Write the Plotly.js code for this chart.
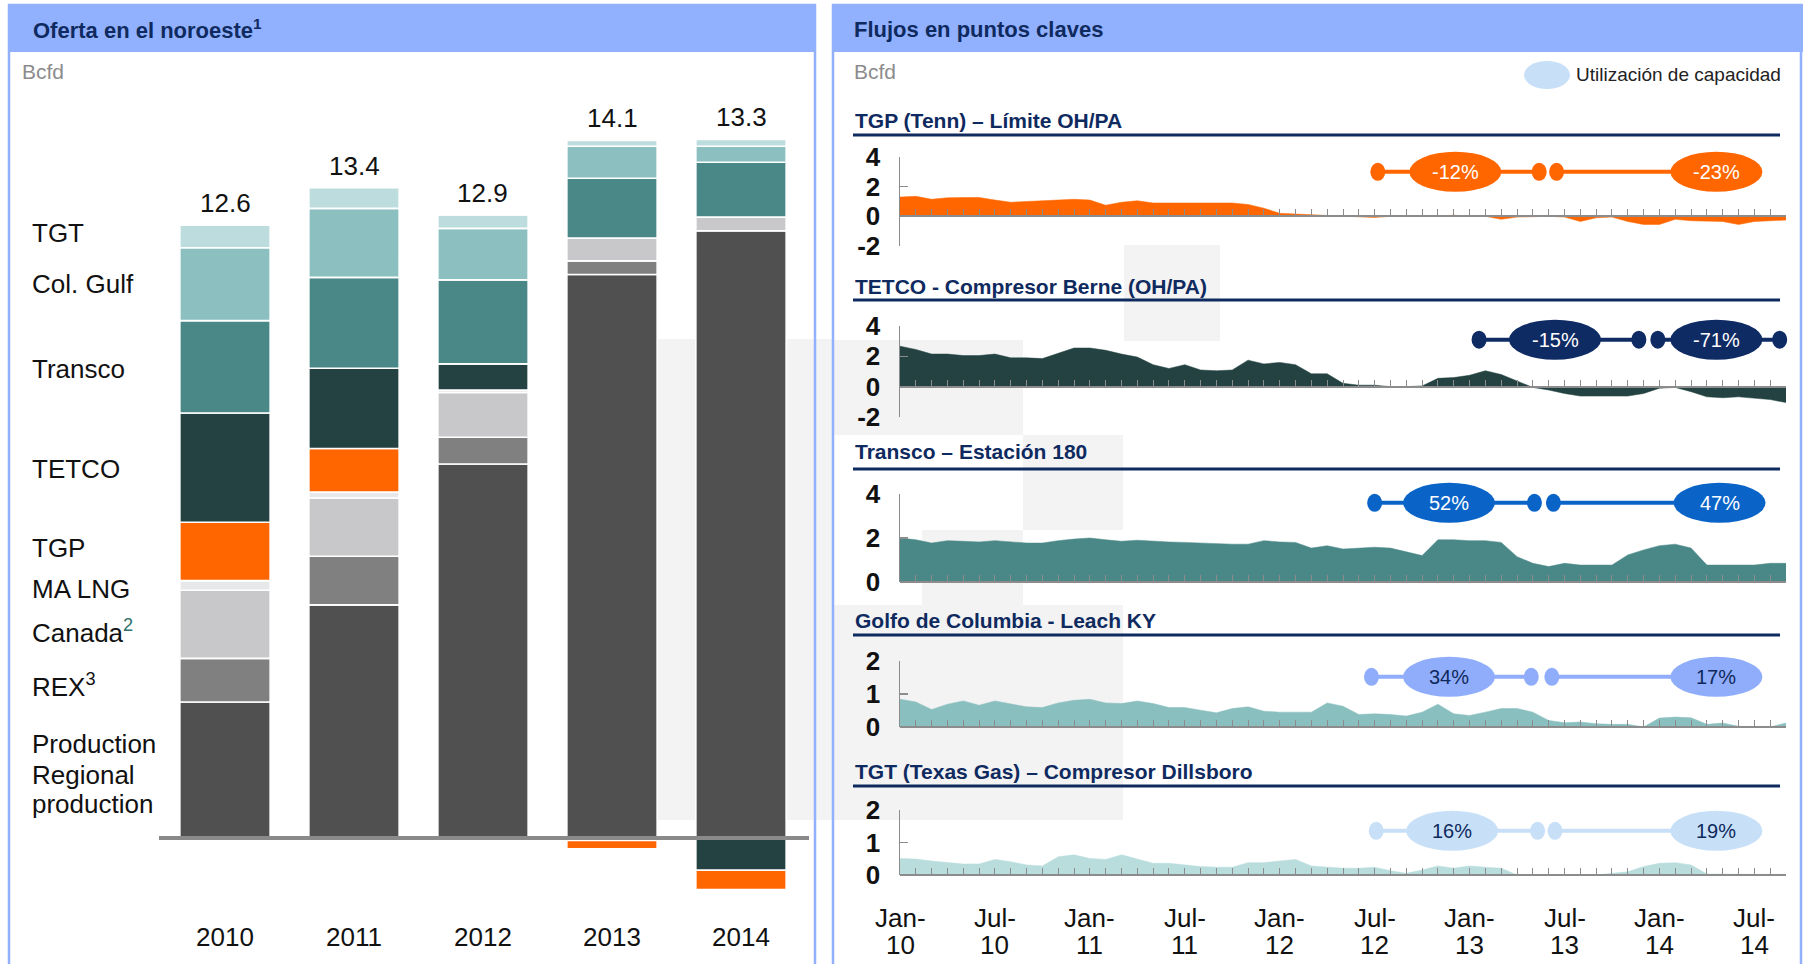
<!DOCTYPE html>
<html>
<head>
<meta charset="utf-8">
<script src="https://cdn.plot.ly/plotly-3.0.1.min.js"></script>
<style>
html,body{margin:0;padding:0;background:#fff;}
#chart{width:1803px;height:964px;}
</style>
</head>
<body>
<div id="chart"></div>
<script>
// ---------------- DATA ----------------
// Left panel: Oferta en el noroeste (Bcfd)
const years = ['2010','2011','2012','2013','2014'];
const regional = [2.8, 4.8, 7.7, 11.6, 12.5];
const rex      = [0.9, 1.0, 0.55, 0.28, 0];
const canada   = [1.4, 1.2, 0.92, 0.47, 0.28];
const maLng    = [0.2, 0.12, 0.05, 0, 0];
const tgp      = [1.2, 0.9, 0, -0.17, -0.40];
const tetco    = [2.25, 1.65, 0.54, -0.05, -0.66];
const transco  = [1.9, 1.87, 1.73, 1.23, 1.13];
const colGulf  = [1.5, 1.42, 1.06, 0.66, 0.33];
const tgt      = [0.47, 0.43, 0.28, 0.12, 0.14];
const totals   = ['12.6','13.4','12.9','14.1','13.3'];

// Right panel: Flujos en puntos claves (Bcfd), monthly Jan-10 .. Sep-14
const months = [0,1,2,3,4,5,6,7,8,9,10,11,12,13,14,15,16,17,18,19,20,21,22,23,24,25,26,27,28,29,30,31,32,33,34,35,36,37,38,39,40,41,42,43,44,45,46,47,48,49,50,51,52,53,54,55,56];
const labelMonths = [0,6,12,18,24,30,36,42,48,54];
const labelTop = ['Jan-','Jul-','Jan-','Jul-','Jan-','Jul-','Jan-','Jul-','Jan-','Jul-'];
const labelBottom = ['10','10','11','11','12','12','13','13','14','14'];

const tgpFlow = [1.3,1.35,1.15,1.25,1.27,1.27,1.1,0.95,1.0,1.05,
  1.1,1.15,1.1,0.75,0.95,1.05,0.9,0.9,0.95,0.95,
  0.9,0.9,0.8,0.55,0.2,0.15,0.1,0.02,0,-0.05,
  -0.08,0,0,0,0,0.08,0,0,-0.2,-0.05,
  0,0,-0.05,-0.35,-0.1,-0.05,-0.35,-0.55,-0.55,-0.2,
  -0.3,-0.3,-0.35,-0.55,-0.35,-0.3,-0.25];
const tetcoFlow = [2.67,2.45,2.15,2.15,2.05,2.05,2.15,1.9,1.9,1.85,
  2.2,2.55,2.55,2.4,2.15,1.95,1.45,1.2,1.45,1.1,
  1.05,1.1,1.75,1.5,1.6,1.45,0.85,0.85,0.22,0.1,
  0.1,0,0,0.05,0.55,0.6,0.75,1.05,0.8,0.35,
  -0.05,-0.22,-0.45,-0.62,-0.62,-0.62,-0.62,-0.45,-0.1,-0.05,
  -0.33,-0.67,-0.73,-0.67,-0.78,-0.85,-1.05];
const transcoFlow = [2.0,1.92,1.77,1.88,1.85,1.82,1.88,1.82,1.77,1.77,
  1.88,1.95,2.0,1.92,1.85,1.9,1.85,1.82,1.8,1.77,
  1.72,1.72,1.72,1.88,1.82,1.8,1.54,1.65,1.5,1.54,
  1.58,1.54,1.38,1.2,1.92,1.92,1.88,1.88,1.8,1.15,
  0.85,0.7,0.85,0.77,0.77,0.77,1.23,1.46,1.65,1.72,
  1.54,0.77,0.77,0.77,0.77,0.85,0.85];
const colGulfFlow = [0.84,0.76,0.53,0.69,0.79,0.66,0.79,0.71,0.61,0.59,
  0.73,0.81,0.84,0.73,0.71,0.79,0.71,0.59,0.59,0.51,
  0.43,0.56,0.61,0.48,0.45,0.45,0.45,0.73,0.63,0.38,
  0.4,0.38,0.33,0.45,0.69,0.4,0.35,0.45,0.56,0.56,
  0.45,0.2,0.13,0.15,0.1,0.08,0.08,0,0.27,0.3,
  0.28,0.08,0.12,0.02,0,0,0.12];
const tgtFlow = [0.51,0.49,0.43,0.38,0.34,0.34,0.48,0.41,0.31,0.28,
  0.56,0.62,0.51,0.48,0.62,0.49,0.36,0.36,0.31,0.26,
  0.24,0.24,0.38,0.38,0.43,0.48,0.28,0.24,0.21,0.21,
  0.24,0.13,0.05,0.15,0.28,0.21,0.28,0.24,0.21,0,
  0,0.02,0.02,0.02,0,0.05,0.1,0.26,0.36,0.38,
  0.31,0.03,0.02,0.02,0.02,0.02,0.02];

const subTitles = ['TGP (Tenn) – Límite OH/PA','TETCO - Compresor Berne (OH/PA)','Transco – Estación 180','Golfo de Columbia - Leach KY','TGT (Texas Gas) – Compresor Dillsboro'];
const utilLabels = [['-12%','-23%'],['-15%','-71%'],['52%','47%'],['34%','17%'],['16%','19%']];

// ---------------- STYLE / GEOMETRY ----------------
const W = 1803, H = 964;
const FONT = 'Liberation Sans, Arial, Helvetica, sans-serif';
const NAVY = '#0f2a5f';
const px = x => x / W;
const py = y => 1 - y / H;

const series = [tgpFlow, tetcoFlow, transcoFlow, colGulfFlow, tgtFlow];
const areaColors = ['#ff6600','#234241','#4a8888','#8abfbf','#b9dcdc'];
const bubbleColors = ['#ff6600','#0f2b64','#0a64c8','#8fadfb','#c7e0f8'];
const bubbleText = ['#ffffff','#ffffff','#ffffff','#10295c','#10295c'];
const subDom = [[157,246],[326,417],[494,582],[661,727],[810,875]];
const subRange = [[-2,4],[-2,4],[0,4],[0,2],[0,2]];
const subTicks = [[-2,0,2,4],[-2,0,2,4],[0,2,4],[0,1,2],[0,1,2]];
const titleY = [120,286,451,620,771];
const ruleY = [135,300,469,635,786];
const XD = [900,1786], XR = [0,56];
const utilY = [3.0,3.1,3.6,1.52,1.36];
const utilPts = [ // dot1, bubble1, dot2, dot3, bubble2, end dot (or null)
  [30.2,35.1,40.4,41.5,51.6,null],
  [36.6,41.4,46.7,47.9,51.6,55.6],
  [30.0,34.7,40.1,41.3,51.8,null],
  [29.8,34.7,39.9,41.2,51.6,null],
  [30.1,34.9,40.3,41.4,51.6,null]
];
// bar chart axes geometry
const BXD = [160.5,805.5], BYD = [85,945], BYR = [-2.2,15.5];

function yP(i, v){ const d=subDom[i], r=subRange[i]; const b=py(d[1]), t=py(d[0]); return b + (v-r[0])/(r[1]-r[0])*(t-b); }
function xP(m){ const a=px(XD[0]), b=px(XD[1]); return a + (m-XR[0])/(XR[1]-XR[0])*(b-a); }
function bxP(k){ const a=px(BXD[0]), b=px(BXD[1]); return a + (k+0.5)/years.length*(b-a); }
function byP(v){ const b=py(BYD[1]), t=py(BYD[0]); return b + (v-BYR[0])/(BYR[1]-BYR[0])*(t-b); }

// ---------------- TRACES ----------------
const traces = [];
function bar(name, vals, color){
  traces.push({type:'bar', name:name, x:years, y:vals, xaxis:'x', yaxis:'y',
    marker:{color:color, line:{color:'#ffffff', width:1.6}}, hoverinfo:'skip', showlegend:false});
}
const pos = a => a.map(v => v > 0 ? v : 0);
const neg = a => a.map(v => v < 0 ? v : 0);
bar('Regional production', regional, '#505050');
bar('REX', rex, '#808080');
bar('Canada', canada, '#c8c8ca');
bar('MA LNG', maLng, '#e6e8ea');
bar('TGP', pos(tgp), '#ff6600');
bar('TETCO', pos(tetco), '#234241');
bar('Transco', transco, '#4a8888');
bar('Col. Gulf', colGulf, '#8bbfc0');
bar('TGT', tgt, '#bcdcdd');
bar('TETCO neg', neg(tetco), '#234241');
bar('TGP neg', neg(tgp), '#ff6600');

series.forEach((s,i) => {
  traces.push({type:'scatter', mode:'lines', x:months, y:s, xaxis:'x'+(i+2), yaxis:'y'+(i+2),
    fill:'tozeroy', fillcolor:areaColors[i], line:{color:areaColors[i], width:0.5},
    hoverinfo:'skip', showlegend:false});
});

// ---------------- LAYOUT ----------------
const layout = {
  width:W, height:H, margin:{l:0,r:0,t:0,b:0,pad:0},
  paper_bgcolor:'#ffffff', plot_bgcolor:'rgba(0,0,0,0)',
  font:{family:FONT, color:'#111111'},
  barmode:'relative', bargap:0.30, showlegend:false,
  xaxis:{domain:[px(BXD[0]),px(BXD[1])], range:[-0.5,4.5], type:'category', visible:false, fixedrange:true},
  yaxis:{domain:[py(BYD[1]),py(BYD[0])], range:BYR, visible:false, fixedrange:true},
  shapes:[], annotations:[]
};

for (let i=0;i<5;i++){
  const n = i+2;
  const d = subDom[i], r = subRange[i];
  layout['xaxis'+n] = {domain:[px(XD[0]),px(XD[1])], range:XR, anchor:'free', position:yP(i,0),
    showline:true, linecolor:'#8c8c8c', linewidth:2, showgrid:false, zeroline:false,
    tickmode:'array', tickvals:months, ticks:'inside', ticklen:6, tickwidth:1, tickcolor:'#8c8c8c',
    showticklabels:false, fixedrange:true};
  layout['yaxis'+n] = {domain:[py(d[1]),py(d[0])], range:r, anchor:'x'+n,
    showline:true, linecolor:'#8c8c8c', linewidth:1.5, showgrid:false, zeroline:false,
    tickmode:'array', tickvals:subTicks[i], ticktext:subTicks[i].map(v => '<b>'+v+'</b>'),
    ticks:'inside', ticklen:8, tickwidth:1.5, tickcolor:'#8c8c8c',
    tickfont:{size:26, color:'#111111', family:FONT}, ticklabelstandoff:13, fixedrange:true};
}

const S = layout.shapes, A = layout.annotations;
// watermark-like light grey blocks
[[618,339,832,820],[832,340,922,435],[922,340,1023,435],[1023,435,1123,530],[922,530,1023,820],[1124,245,1220,341],[821,605,1123,820]]
 .forEach(r => S.push({type:'rect', xref:'paper', yref:'paper', x0:px(r[0]), x1:px(r[2]), y0:py(r[3]), y1:py(r[1]),
   fillcolor:'#f3f3f3', line:{width:0}, layer:'below'}));
// panel headers + borders
const HB = '#91b0fe';
[[8,815],[832,1803]].forEach(p => {
  S.push({type:'rect', xref:'paper', yref:'paper', x0:px(p[0]), x1:px(p[1]), y0:py(52), y1:py(4), fillcolor:HB, line:{width:0}, layer:'below'});
  S.push({type:'rect', xref:'paper', yref:'paper', x0:px(p[0]+1), x1:px(Math.min(p[1],1801)), y0:py(990), y1:py(5), fillcolor:'rgba(0,0,0,0)', line:{color:HB, width:2.5}, layer:'below'});
});
// baseline of bar chart
S.push({type:'line', xref:'paper', yref:'paper', x0:px(159), x1:px(809), y0:byP(0), y1:byP(0), line:{color:'#8a8a8a', width:4}, layer:'above'});

// headers text
A.push({xref:'paper', yref:'paper', x:px(31), y:py(29), xanchor:'left', yanchor:'middle', showarrow:false,
  text:'<b>Oferta en el noroeste<sup>1</sup></b>', font:{size:22, color:NAVY, family:FONT}});
A.push({xref:'paper', yref:'paper', x:px(852), y:py(29), xanchor:'left', yanchor:'middle', showarrow:false,
  text:'<b>Flujos en puntos claves</b>', font:{size:22, color:NAVY, family:FONT}});
[20,852].forEach(x => A.push({xref:'paper', yref:'paper', x:px(x), y:py(72), xanchor:'left', yanchor:'middle', showarrow:false,
  text:'Bcfd', font:{size:21, color:'#8c8c8c', family:FONT}}));
// legend
S.push({type:'circle', xref:'paper', yref:'paper', xsizemode:'pixel', ysizemode:'pixel', xanchor:px(1547), yanchor:py(75),
  x0:-23, x1:23, y0:-14, y1:14, fillcolor:'#c7e0f8', line:{width:0}, layer:'above'});
A.push({xref:'paper', yref:'paper', x:px(1574), y:py(75), xanchor:'left', yanchor:'middle', showarrow:false,
  text:'Utilización de capacidad', font:{size:19, color:'#222222', family:FONT}});

// left category labels
const catLabels = [['TGT',233],['Col. Gulf',284],['Transco',369],['TETCO',469],['TGP',548],['MA LNG',589],
  ['Canada<sup><span style="color:#2f6f6a">2</span></sup>',631],['REX<sup>3</sup>',685],['Production',744],['Regional',775],['production',804]];
catLabels.forEach(c => A.push({xref:'paper', yref:'paper', x:px(30), y:py(c[1]), xanchor:'left', yanchor:'middle', showarrow:false,
  text:c[0], font:{size:26, color:'#111111', family:FONT}}));
// totals above bars, year labels below
const posStacks = [regional, rex, canada, maLng, pos(tgp), pos(tetco), transco, colGulf, tgt];
years.forEach((yr,k) => {
  const top = posStacks.reduce((s,a) => s + a[k], 0);
  A.push({xref:'paper', yref:'paper', x:bxP(k), y:byP(top), yshift:22, xanchor:'center', yanchor:'middle', showarrow:false,
    text:totals[k], font:{size:26, color:'#111111', family:FONT}});
  A.push({xref:'paper', yref:'paper', x:bxP(k), y:py(937), xanchor:'center', yanchor:'middle', showarrow:false,
    text:yr, font:{size:26, color:'#111111', family:FONT}});
});

// right panel sub titles, rules, util markers
for (let i=0;i<5;i++){
  A.push({xref:'paper', yref:'paper', x:px(853), y:py(titleY[i]), xanchor:'left', yanchor:'middle', showarrow:false,
    text:'<b>'+subTitles[i]+'</b>', font:{size:21, color:NAVY, family:FONT}});
  S.push({type:'line', xref:'paper', yref:'paper', x0:px(853), x1:px(1780), y0:py(ruleY[i]), y1:py(ruleY[i]),
    line:{color:NAVY, width:3}, layer:'above'});
  const u = utilPts[i], yy = yP(i, utilY[i]), col = bubbleColors[i];
  const segEnd = u[5] !== null ? u[5] : u[4];
  [[u[0],u[2]],[u[3],segEnd]].forEach(sg => S.push({type:'line', xref:'paper', yref:'paper', x0:xP(sg[0]), x1:xP(sg[1]), y0:yy, y1:yy,
    line:{color:col, width:4}, layer:'above'}));
  const dots = [u[0],u[2],u[3]]; if (u[5] !== null) dots.push(u[5]);
  dots.forEach(m => S.push({type:'circle', xref:'paper', yref:'paper', xsizemode:'pixel', ysizemode:'pixel', xanchor:xP(m), yanchor:yy,
    x0:-7.5, x1:7.5, y0:-9, y1:9, fillcolor:col, line:{width:0}, layer:'above'}));
  [u[1],u[4]].forEach((m,j) => {
    S.push({type:'circle', xref:'paper', yref:'paper', xsizemode:'pixel', ysizemode:'pixel', xanchor:xP(m), yanchor:yy,
      x0:-46, x1:46, y0:-20, y1:20, fillcolor:col, line:{width:0}, layer:'above'});
    A.push({xref:'paper', yref:'paper', x:xP(m), y:yy, xanchor:'center', yanchor:'middle', showarrow:false,
      text:utilLabels[i][j], font:{size:20, color:bubbleText[i], family:FONT}});
  });
}
// bottom date labels
labelMonths.forEach((m,k) => {
  A.push({xref:'paper', yref:'paper', x:xP(m), y:py(918), xanchor:'center', yanchor:'middle', showarrow:false,
    text:labelTop[k], font:{size:26, color:'#111111', family:FONT}});
  A.push({xref:'paper', yref:'paper', x:xP(m), y:py(945), xanchor:'center', yanchor:'middle', showarrow:false,
    text:labelBottom[k], font:{size:26, color:'#111111', family:FONT}});
});

Plotly.newPlot('chart', traces, layout, {staticPlot:true, displayModeBar:false});
</script>
</body>
</html>
